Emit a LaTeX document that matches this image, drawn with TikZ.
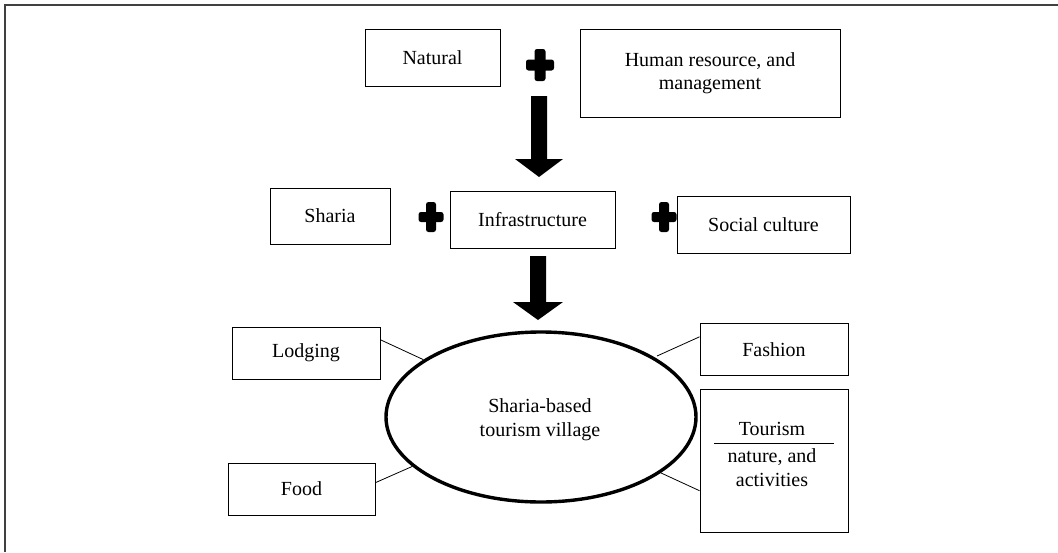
\documentclass[tikz,border=0pt]{standalone}
\usepackage{fontspec}
\setmainfont{Liberation Serif}
\usetikzlibrary{shapes.geometric,calc}
\begin{document}
\begin{tikzpicture}[x=1pt,y=-1pt,
  box/.style={draw, line width=0.9pt, inner sep=0pt, align=center,
    font=\fontsize{20}{23}\selectfont},
  txt/.style={inner sep=0pt, align=center, font=\fontsize{20}{24}\selectfont},
  link/.style={line width=0.8pt},
  frame/.style={line width=1.6pt, draw=black!75},
  pics/plussign/.style args={#1/#2/#3}{code={
    \fill[rounded corners=2.5pt] (-#3/2,-#2/2) rectangle (#3/2,#2/2);
    \fill[rounded corners=2.5pt] (-#1/2,-#3/2) rectangle (#1/2,#3/2);}}
]
\useasboundingbox (0,0) rectangle (1058,552);
% outer frame (only top and left visible)
\draw[frame] (5,552) -- (5,5) -- (1058,5);

% top row
\node[box, minimum width=135, minimum height=57] (natural) at (432.5,57.5) {Natural};
\node[box, minimum width=260, minimum height=88] (human) at (710,73) {Human resource, and\\management};
\pic at (540,65) {plussign=28/32/11};

% arrow 1
\fill (531,96) -- (547,96) -- (547,159) -- (563,159) -- (539,177) -- (515,159) -- (531,159) -- cycle;

% middle row
\node[box, minimum width=120, minimum height=56] (sharia) at (330,216) {Sharia};
\node[box, minimum width=165, minimum height=57] (infra) at (532.5,219.5) {Infrastructure};
\node[box, minimum width=173, minimum height=57] (social) at (763.5,224.5) {Social culture};
\pic at (431,217) {plussign=25/30/10};
\pic at (664,217) {plussign=25/30/10};

% arrow 2
\fill (530,256) -- (546,256) -- (546,302) -- (563,302) -- (538,320) -- (513,302) -- (530,302) -- cycle;

% ellipse
\node[ellipse, draw, line width=3.4pt, minimum width=310, minimum height=170, inner sep=0pt] (ell) at (541,417) {};
\node[txt] (elltxt) at (540,420) {Sharia-based\\tourism village};

% satellites
\node[box, minimum width=148, minimum height=52] (lodging) at (306,353) {Lodging};
\node[box, minimum width=148, minimum height=52] (fashion) at (774,349.5) {Fashion};
\node[box, minimum width=147, minimum height=52] (food) at (301.5,489) {Food};
\node[box, minimum width=148, minimum height=143] (tour) at (774,460.5) {};
\node[txt, anchor=base] (tourtop) at (772,435) {Tourism};
\node[txt, anchor=north] (tourbot) at (772,448) {nature, and\\activities};
\draw[line width=0.8pt] (714,443) -- (834,443);

% connectors
\coordinate (fashend) at (657,356);
\draw[link] ($(lodging.north east)!0.25!(lodging.south east)$) -- (ell.154);
\draw[link] ($(fashion.north west)!0.26!(fashion.south west)$) -- (fashend);
\draw[link] ($(food.north east)!0.38!(food.south east)$) -- (ell.201);
\draw[link] ($(tour.north west)!0.71!(tour.south west)$) -- (ell.335);
\end{tikzpicture}
\end{document}
